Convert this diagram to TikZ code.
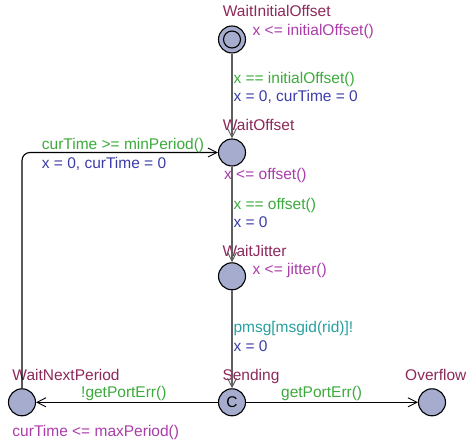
\documentclass[tikz,border=0pt]{standalone}
\usepackage{fontspec}
\setmainfont{Liberation Sans}
\usetikzlibrary{arrows.meta}
\definecolor{locname}{RGB}{140,40,90}
\definecolor{invcol}{RGB}{170,60,170}
\definecolor{guardcol}{RGB}{60,170,60}
\definecolor{assigncol}{RGB}{60,60,170}
\definecolor{synccol}{RGB}{40,160,160}
\definecolor{locfill}{RGB}{165,172,205}
\definecolor{edgegray}{RGB}{95,95,95}
\tikzset{
  loc/.style={circle,draw=black,line width=1.1pt,fill=locfill,minimum size=27pt,inner sep=0pt,font=\fontsize{15.5}{18}\selectfont},
  txt/.style={anchor=base west,inner sep=0pt,font=\fontsize{15.5}{18}\selectfont},
  nm/.style={txt,text=locname},
  inv/.style={txt,text=invcol},
  grd/.style={txt,text=guardcol},
  asg/.style={txt,text=assigncol},
  syn/.style={txt,text=synccol},
  edge/.style={line width=1.1pt,-{Straight Barb[length=9pt,width=9pt,line width=0.9pt]}},
}
\begin{document}
\begin{tikzpicture}[x=1pt,y=-1pt]
\useasboundingbox (0,0) rectangle (466,446);
% locations
\node[loc] (wio) at (232,39.5) {};
\node[circle,draw=black,line width=1.1pt,minimum size=17pt,inner sep=0pt] (wioin) at (wio.center) {};
\node[loc] (wo) at (232,152.5) {};
\node[loc] (wj) at (232,276.3) {};
\node[loc] (snd) at (232,402.3) {C};
\node[loc] (wnp) at (22,402.3) {};
\node[loc] (ovf) at (432,402.3) {};
% location names and invariants
\node[nm] (nwio) at (222.7,17) {WaitInitialOffset};
\node[inv] (iwio) at (252.5,36) {x <= initialOffset()};
\node[nm] (nwo) at (222.7,130.5) {WaitOffset};
\node[inv] (iwo) at (224,180) {x <= offset()};
\node[nm] (nwj) at (222.3,256.5) {WaitJitter};
\node[inv] (iwj) at (252.5,275) {x <= jitter()};
\node[nm] (nsnd) at (222.3,380.5) {Sending};
\node[nm] (nwnp) at (12.3,380.5) {WaitNextPeriod};
\node[inv] (iwnp) at (12.3,436) {curTime <= maxPeriod()};
\node[nm] (novf) at (405,380.5) {Overflow};
% edges
\draw[edge,draw=edgegray] (wio) -- (wo);
\draw[edge,draw=edgegray] (wo) -- (wj);
\draw[edge,draw=edgegray] (wj) -- (snd);
\draw[edge,draw=black] (snd) -- (wnp);
\draw[edge,draw=black] (snd) -- (ovf);
\draw[edge,draw=black,rounded corners=8pt] (wnp) |- (wo);
% edge labels
\node[grd] (g1) at (233.3,84) {x == initialOffset()};
\node[asg] (a1) at (233.3,101.7) {x = 0, curTime = 0};
\node[grd] (g2) at (233.3,209.3) {x == offset()};
\node[asg] (a2) at (233.3,227.7) {x = 0};
\node[syn] (s3) at (233.3,332.7) {pmsg[msgid(rid)]!};
\node[asg] (a3) at (233.3,351.7) {x = 0};
\node[grd] (g4) at (81,397.7) {!getPortErr()};
\node[grd] (g5) at (281,397.7) {getPortErr()};
\node[grd] (g6) at (41.7,149.3) {curTime >= minPeriod()};
\node[asg] (a6) at (41.7,168.3) {x = 0, curTime = 0};
\end{tikzpicture}
\end{document}
